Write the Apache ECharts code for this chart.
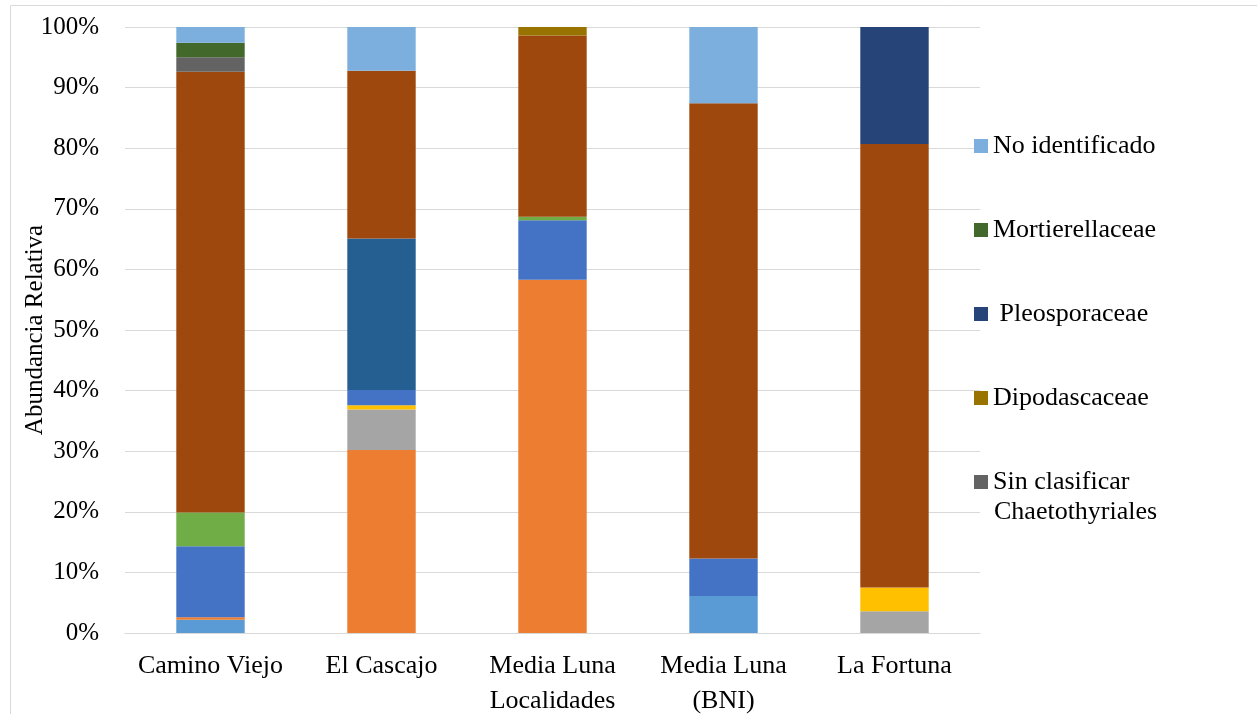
<!DOCTYPE html>
<html>
<head>
<meta charset="utf-8">
<script src="https://cdn.jsdelivr.net/npm/echarts@6/dist/echarts.min.js"></script>
<style>
  html, body { margin: 0; padding: 0; background: #fff; }
  #main { width: 1257px; height: 714px; }
</style>
</head>
<body>
<div id="main"></div>
<script>
// categorías (localidades)
let categories = ['Camino Viejo', 'El Cascajo', 'Media Luna\nLocalidades', 'Media Luna\n(BNI)', 'La Fortuna']
let yTicks = [0, 10, 20, 30, 40, 50, 60, 70, 80, 90, 100]

// abundancia relativa (%) por familia, de abajo hacia arriba
let fam1 = [2.2, null, null, 6.1, null]
let fam2 = [0.4, 30.2, 58.3, null, null]
let fam3 = [null, 6.7, null, null, 3.6]
let fam4 = [null, 0.7, null, null, 3.9]
let fam5 = [11.7, 2.5, 9.8, 6.2, null]
let fam6 = [5.6, null, 0.6, null, null]
let fam7 = [null, 25.0, null, null, null]
let fam8 = [72.7, 27.7, 29.9, 75.1, 73.2]
let sinClasificar = [2.4, null, null, null, null]
let dipodascaceae = [null, null, 1.4, null, null]
let pleosporaceae = [null, null, null, null, 19.3]
let mortierellaceae = [2.4, null, null, null, null]
let noIdentificado = [2.6, 7.2, null, 12.6, null]

let seriesList = [
    { name: 'Familia 1', data: fam1, color: '#5B9BD5' },
    { name: 'Familia 2', data: fam2, color: '#ED7D31' },
    { name: 'Familia 3', data: fam3, color: '#A5A5A5' },
    { name: 'Familia 4', data: fam4, color: '#FFC000' },
    { name: 'Familia 5', data: fam5, color: '#4472C4' },
    { name: 'Familia 6', data: fam6, color: '#70AD47' },
    { name: 'Familia 7', data: fam7, color: '#255E91' },
    { name: 'Familia 8', data: fam8, color: '#9E480E' },
    { name: 'Sin clasificar Chaetothyriales', data: sinClasificar, color: '#636363' },
    { name: 'Dipodascaceae', data: dipodascaceae, color: '#997300' },
    { name: ' Pleosporaceae', data: pleosporaceae, color: '#264478' },
    { name: 'Mortierellaceae', data: mortierellaceae, color: '#43682B' },
    { name: 'No identificado', data: noIdentificado, color: '#7CAFDD' }
]

let font = 'Liberation Serif, Times New Roman, serif'

var myChart = echarts.init(document.getElementById('main'))
var option = {
    animation: false,
    textStyle: { fontFamily: font },
    graphic: [{
        type: 'rect',
        shape: { x: 10.5, y: 5.5, width: 1300, height: 800 },
        style: { fill: 'none', stroke: '#d9d9d9', lineWidth: 1 },
        silent: true
    }, {
        // segunda línea de la última entrada de la leyenda
        type: 'text',
        left: 994,
        top: 499,
        style: { text: 'Chaetothyriales', fontFamily: font, fontSize: 26, fill: '#000' },
        silent: true
    }],
    grid: { left: 125, right: 277, top: 27, bottom: 81, outerBoundsMode: 'none' },
    legend: {
        orient: 'vertical',
        left: 969,
        top: 128,
        itemWidth: 14,
        itemHeight: 14,
        itemGap: 58,
        icon: 'rect',
        textStyle: { fontFamily: font, fontSize: 26, color: '#000', lineHeight: 26 },
        formatter: name => name === 'Sin clasificar Chaetothyriales' ? 'Sin clasificar' : name,
        data: ['No identificado', 'Mortierellaceae', ' Pleosporaceae', 'Dipodascaceae', 'Sin clasificar Chaetothyriales']
    },
    xAxis: {
        type: 'category',
        data: categories,
        axisLine: { lineStyle: { color: '#d9d9d9', width: 1 } },
        axisTick: { show: false },
        axisLabel: { fontFamily: font, fontSize: 26, color: '#000', lineHeight: 35, margin: 16, interval: 0 }
    },
    yAxis: {
        type: 'value',
        min: yTicks[0],
        max: yTicks[yTicks.length - 1],
        interval: 10,
        name: 'Abundancia Relativa',
        nameLocation: 'middle',
        nameGap: 77,
        nameMoveOverlap: false,
        nameTextStyle: { fontFamily: font, fontSize: 25, color: '#000' },
        axisLine: { show: false },
        axisTick: { show: false },
        axisLabel: { fontFamily: font, fontSize: 25, color: '#000', margin: 26, formatter: '{value}%' },
        splitLine: { lineStyle: { color: '#d9d9d9', width: 1 } }
    },
    series: seriesList.map(s => ({
        name: s.name,
        type: 'bar',
        stack: 'total',
        barWidth: '40%',
        data: s.data,
        itemStyle: { color: s.color }
    }))
}
myChart.setOption(option)
</script>
</body>
</html>
